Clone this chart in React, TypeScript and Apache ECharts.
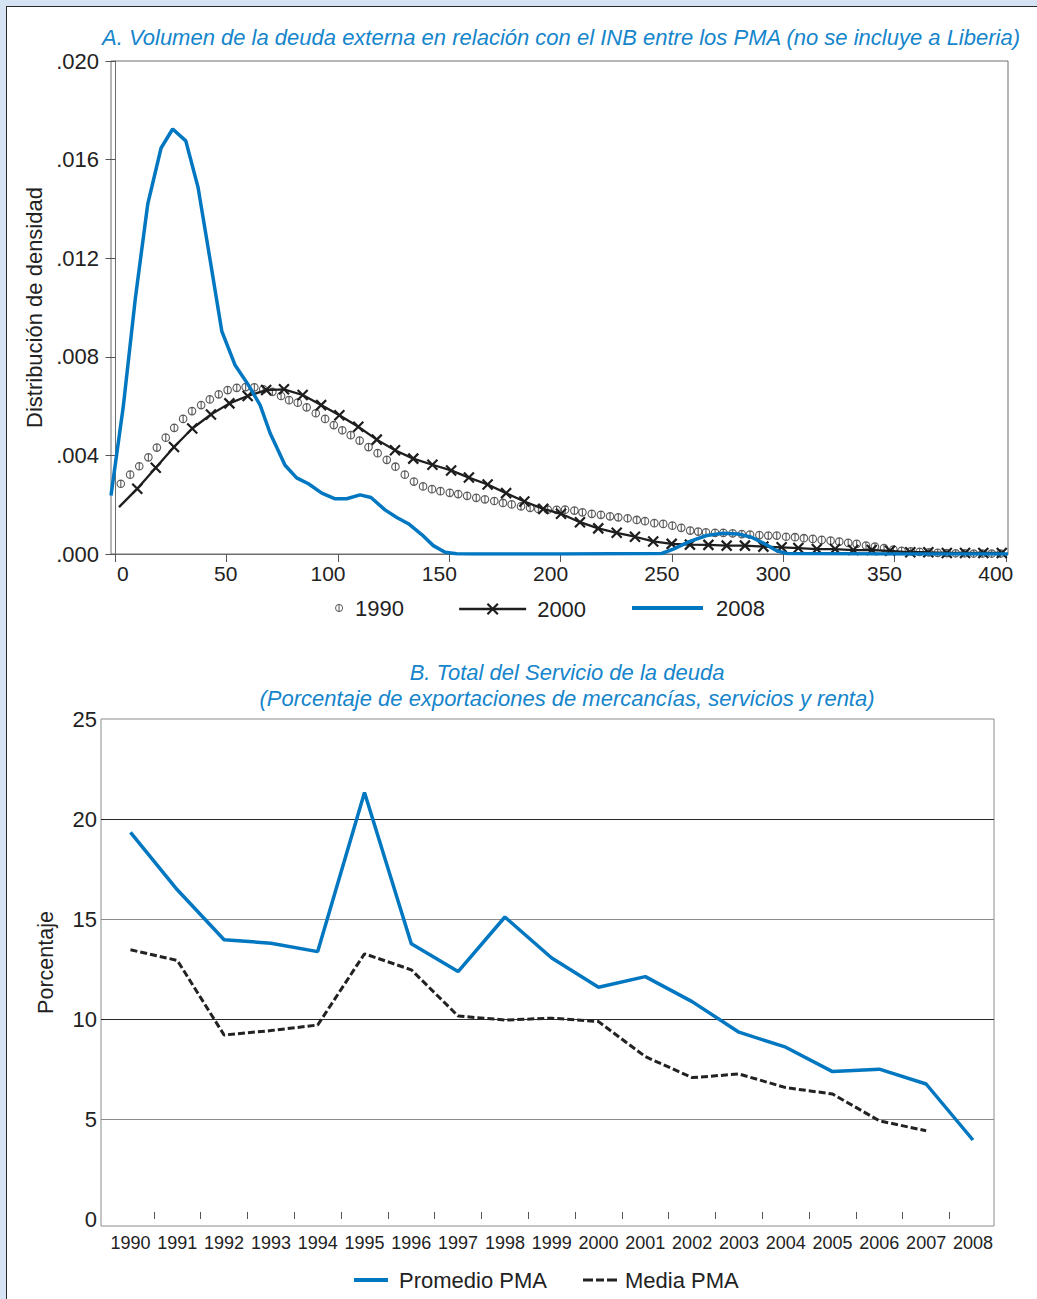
import React, { useEffect, useRef } from 'react';
import * as echarts from 'echarts';

const FONT = '"Liberation Sans", Arial, Helvetica, sans-serif';
const BLUE = '#0077c0';
const TITLE_BLUE = '#1585cc';
const DARK = '#222222';

// ---------- Panel A: kernel density of external debt / GNI ----------
const titleA = 'A. Volumen de la deuda externa en relación con el INB entre los PMA (no se incluye a Liberia)';
const yNameA = 'Distribución de densidad';
const xTicksA = [0, 50, 100, 150, 200, 250, 300, 350, 400];

const x1990 = [
  2.4, 6.6, 10.7, 14.8, 18.6, 22.6, 26.4, 30.4, 34.4, 38.5,
  42.4, 46.4, 50.4, 54.5, 58.5, 62.4, 66.4, 70.5, 74.4, 78.0,
  81.9, 85.9, 90.0, 94.2, 98.1, 101.9, 105.7, 109.7, 113.7, 117.8,
  121.9, 125.8, 130.0, 134.1, 138.2, 142.2, 146.0, 150.2, 154.0, 158.0,
  162.1, 166.0, 170.2, 174.1, 178.0, 182.2, 186.3, 190.0, 194.2, 198.2,
  202.0, 206.2, 209.8, 214.0, 218.1, 222.2, 225.9, 230.1, 234.2, 237.9,
  242.1, 246.1, 250.2, 254.2, 258.2, 261.8, 265.3, 269.4, 273.1, 277.3,
  281.4, 285.1, 289.3, 293.3, 297.1, 301.3, 305.3, 309.3, 313.3, 317.3,
  321.3, 325.2, 329.2, 333.0, 337.2, 341.2, 345.3, 349.5, 353.2, 357.3,
  361.3, 365.4, 369.4, 373.5, 377.5, 381.5, 385.6, 389.6, 393.7, 397.7,
];
const y1990 = [
  0.00285, 0.00322, 0.00356, 0.00392, 0.00432, 0.00472, 0.00512, 0.00548, 0.0058, 0.00604,
  0.00627, 0.00648, 0.00665, 0.00674, 0.00677, 0.00676, 0.00668, 0.00658, 0.00641, 0.00624,
  0.00614, 0.00595, 0.00571, 0.00548, 0.00523, 0.00502, 0.00482, 0.0046, 0.00434, 0.00409,
  0.00382, 0.00354, 0.00322, 0.00294, 0.00274, 0.00263, 0.00255, 0.00248, 0.00243, 0.00236,
  0.00228, 0.00222, 0.00215, 0.00207, 0.00201, 0.00193, 0.00187, 0.00183, 0.0018, 0.00179,
  0.0018, 0.00176, 0.00169, 0.00163, 0.00159, 0.00153, 0.00149, 0.00145, 0.00138, 0.00133,
  0.00125, 0.00122, 0.00115, 0.00106, 0.00095, 0.00091, 0.00088, 0.00086, 0.00086, 0.00084,
  0.00081, 0.00079, 0.00077, 0.00075, 0.00075, 0.0007, 0.00068, 0.00064, 0.00061, 0.00057,
  0.00054, 0.0005, 0.00045, 0.00041, 0.00034, 0.0003, 0.00024, 0.00018, 0.00013, 0.00011,
  0.00009, 0.00007, 0.00005, 0.00004, 0.00003, 0.00003, 0.00002, 0.00002, 0.00002, 0.00002,
];

const x2000 = [
  1.6, 9.8, 18.1, 26.3, 34.5, 42.9, 51.2, 59.4, 67.7, 75.7,
  84.1, 92.4, 100.6, 109.1, 117.4, 125.6, 133.8, 142.4, 150.8, 158.8,
  167.2, 175.5, 183.7, 192.2, 200.2, 208.7, 216.9, 225.2, 233.4, 241.6,
  249.9, 258.1, 266.4, 274.6, 282.8, 291.1, 299.3, 306.8, 315.1, 323.3,
  331.5, 339.8, 348.0, 357.1, 365.2, 373.5, 381.7, 389.9, 398.2,
];
const y2000 = [
  0.0019, 0.00265, 0.0035, 0.00434, 0.00509, 0.00566, 0.00611, 0.00641, 0.00665, 0.00668,
  0.00645, 0.00604, 0.00563, 0.00516, 0.00464, 0.00421, 0.00387, 0.00362, 0.00339, 0.0031,
  0.00282, 0.00247, 0.00213, 0.00183, 0.00163, 0.00129, 0.00104, 0.00086, 0.0007, 0.00051,
  0.00041, 0.00038, 0.00037, 0.00034, 0.00034, 0.0003, 0.00027, 0.00024, 0.0002, 0.0002,
  0.00016, 0.00016, 0.00013, 0.00007, 0.00007, 0.00004, 0.00004, 0.00004, 0.00004,
];

const x2008 = [
  -2.0, 3.5, 9.0, 14.5, 20.5, 25.7, 31.6, 37.1, 42.5, 47.8,
  53.7, 59.7, 65.0, 69.5, 76.2, 81.4, 86.7, 92.7, 98.7, 103.9,
  109.9, 114.8, 121.1, 126.4, 131.6, 137.6, 142.8, 148.1, 153.3, 160,
  200, 245.4, 250.6, 258.1, 265.6, 273.1, 279.8, 285.8, 291.8, 297.1,
  301.6, 350, 401,
];
const y2008 = [
  0.00237, 0.00597, 0.01042, 0.01419, 0.01647, 0.01724, 0.01676, 0.01488, 0.01195, 0.00903,
  0.00767, 0.00686, 0.00604, 0.0049, 0.0036, 0.00309, 0.00285, 0.00247, 0.00224, 0.00224,
  0.0024, 0.00229, 0.00179, 0.00148, 0.00123, 0.00079, 0.00034, 0.00007, 0.00001, 0,
  0, 0.00002, 0.0002, 0.00051, 0.00075, 0.00084, 0.00081, 0.00068, 0.00041, 0.00013,
  0.00002, 0, 0,
];

// ---------- Panel B: total debt service ----------
const titleB = 'B. Total del Servicio de la deuda\n(Porcentaje de exportaciones de mercancías, servicios y renta)';
const yNameB = 'Porcentaje';
const years = [1990, 1991, 1992, 1993, 1994, 1995, 1996, 1997, 1998, 1999, 2000, 2001, 2002, 2003, 2004, 2005, 2006, 2007, 2008];
const promedioPMA = [19.33, 16.46, 13.96, 13.79, 13.37, 21.33, 13.76, 12.37, 15.1, 13.05, 11.59, 12.12, 10.87, 9.34, 8.59, 7.37, 7.49, 6.75, 3.95];
const mediaPMA = [13.46, 12.93, 9.2, 9.42, 9.7, 13.26, 12.46, 10.15, 9.95, 10.04, 9.87, 8.12, 7.07, 7.25, 6.57, 6.25, 4.91, 4.41, null];
const yTicksB = [0, 5, 10, 15, 20, 25];

const PHI = 'path://M9,5A4,4,0,1,1,1,5A4,4,0,1,1,9,5Z M5,0.5L5,9.5';
const CROSS = 'path://M0,0L10,10M10,0L0,10';
const DASHES = 'path://M0,0h10v3h-10z M13,0h8v3h-8z M24,0h10v3h-10z';

const pairs = (xs: number[], ys: (number | null)[]) => xs.map((x, i) => [x, ys[i]]);

function buildOption(): any {
  const axisText = { fontFamily: FONT, color: DARK };
  return {
    animation: false,
    backgroundColor: 'transparent',
    textStyle: { fontFamily: FONT },
    title: [
      {
        text: titleA, left: 561, top: 26, padding: 0, textAlign: 'center', textVerticalAlign: 'top',
        textStyle: { fontFamily: FONT, fontSize: 22, fontStyle: 'italic', fontWeight: 'normal', color: TITLE_BLUE },
      },
      {
        text: titleB, left: 567, top: 659, padding: 0, textAlign: 'center', textVerticalAlign: 'top',
        textStyle: { fontFamily: FONT, fontSize: 22, fontStyle: 'italic', fontWeight: 'normal', color: TITLE_BLUE, lineHeight: 26 },
      },
    ],
    legend: [
      {
        data: [{ name: '1990', icon: PHI }], left: 335, top: 597, padding: 0, selectedMode: false,
        itemWidth: 22, itemHeight: 8, itemStyle: { borderWidth: 1 },
        textStyle: { ...axisText, fontSize: 22 },
      },
      {
        data: ['2000'], left: 458, top: 598, padding: 0, selectedMode: false,
        itemWidth: 67, itemHeight: 13, itemStyle: { borderWidth: 2.2 }, lineStyle: { width: 2.3 },
        textStyle: { ...axisText, fontSize: 22, padding: [0, 0, 0, 6] },
      },
      {
        data: [{ name: '2008', icon: 'rect' }], left: 632, top: 597, padding: 0, selectedMode: false,
        itemWidth: 71, itemHeight: 4, itemStyle: { borderWidth: 0 },
        textStyle: { ...axisText, fontSize: 22, padding: [0, 0, 0, 8] },
      },
      {
        data: [{ name: 'Promedio PMA', icon: 'rect' }], left: 354, top: 1269, padding: 0, selectedMode: false,
        itemWidth: 34, itemHeight: 4, itemStyle: { borderWidth: 0 },
        textStyle: { ...axisText, fontSize: 22, padding: [0, 0, 0, 6] },
      },
      {
        data: [{ name: 'Media PMA', icon: DASHES }], left: 583, top: 1269, padding: 0, selectedMode: false,
        itemWidth: 34, itemHeight: 3, itemStyle: { borderWidth: 0 },
        textStyle: { ...axisText, fontSize: 22, padding: [0, 0, 0, 3] },
      },
    ],
    grid: [
      { left: 111, top: 61, width: 897, height: 493, show: true, borderColor: '#6e6e6e', borderWidth: 1, backgroundColor: 'transparent' },
      { left: 101, top: 719, width: 893, height: 507, show: true, borderColor: '#8c8c8c', borderWidth: 1, backgroundColor: 'transparent' },
    ],
    xAxis: [
      {
        type: 'value', gridIndex: 0, min: -2, max: 401,
        axisLine: { show: true, lineStyle: { color: '#6e6e6e', width: 1 } },
        axisTick: { show: true, length: 8, customValues: xTicksA, lineStyle: { color: '#555', width: 1 } },
        axisLabel: {
          ...axisText, fontSize: 21, margin: 9,
          customValues: xTicksA.map((v) => (v === 0 ? v + 3.3 : v >= 100 ? v - 4.5 : v - 0.5)),
          formatter: (v: number) => String(Math.round(v / 50) * 50),
        },
        splitLine: { show: false },
      },
      {
        type: 'value', gridIndex: 1, min: 1989.37, max: 2008.45,
        axisLine: { show: false },
        axisTick: { show: true, inside: true, length: 7, customValues: years.slice(0, -1).map((y) => y + 0.5), lineStyle: { color: '#555', width: 1 } },
        axisLabel: {
          ...axisText, fontSize: 18, margin: 8,
          customValues: years,
          formatter: (v: number) => String(Math.round(v)),
        },
        splitLine: { show: false },
      },
    ],
    yAxis: [
      {
        type: 'value', gridIndex: 0, min: 0, max: 0.02, interval: 0.004,
        axisLine: { show: true, lineStyle: { color: '#6e6e6e', width: 1 } },
        axisTick: { show: true, length: 10, lineStyle: { color: '#555', width: 1 } },
        axisLabel: { ...axisText, fontSize: 22, margin: 12, formatter: (v: number) => v.toFixed(3).replace(/^0/, '') },
        splitLine: { show: false },
        name: yNameA, nameLocation: 'middle', nameGap: 66,
        nameTextStyle: { ...axisText, fontSize: 22 },
      },
      {
        type: 'value', gridIndex: 1, min: -0.35, max: 25,
        axisLine: { show: false },
        axisTick: { show: false, customValues: [5, 10, 15, 20] },
        axisLabel: { ...axisText, fontSize: 22, margin: 4, customValues: yTicksB },
        splitLine: { show: true, lineStyle: { color: ['#8c8c8c', '#2a2a2a'], width: 1 } },
        name: yNameB, nameLocation: 'middle', nameGap: 44,
        nameTextStyle: { ...axisText, fontSize: 21.5, padding: [0, 0, 0, 20] },
      },
    ],
    series: [
      {
        name: '1990', type: 'scatter', xAxisIndex: 0, yAxisIndex: 0,
        data: pairs(x1990, y1990),
        symbol: PHI, symbolSize: [7.5, 8.4],
        itemStyle: { color: 'rgba(0,0,0,0)', borderColor: '#333333', borderWidth: 1.2 },
        z: 2,
      },
      {
        name: '2000', type: 'line', xAxisIndex: 0, yAxisIndex: 0,
        data: pairs(x2000, y2000).map((p, i) => (i === 0 ? { value: p, symbol: 'none' } : p)),
        symbol: CROSS, symbolSize: 10, showSymbol: true, showAllSymbol: true,
        color: '#1e1e1e',
        lineStyle: { color: '#1e1e1e', width: 2.3 },
        itemStyle: { color: 'rgba(0,0,0,0)', borderColor: '#1e1e1e', borderWidth: 2.2 },
        z: 3,
      },
      {
        name: '2008', type: 'line', xAxisIndex: 0, yAxisIndex: 0,
        data: pairs(x2008, y2008),
        symbol: 'none', color: BLUE,
        lineStyle: { color: BLUE, width: 3.5 },
        z: 4,
      },
      {
        name: 'Promedio PMA', type: 'line', xAxisIndex: 1, yAxisIndex: 1,
        data: pairs(years, promedioPMA),
        symbol: 'none', color: BLUE,
        lineStyle: { color: BLUE, width: 3.5 },
        z: 4,
      },
      {
        name: 'Media PMA', type: 'line', xAxisIndex: 1, yAxisIndex: 1,
        data: pairs(years, mediaPMA),
        symbol: 'none', color: '#222',
        lineStyle: { color: '#222', width: 3, type: [7, 3] },
        z: 3,
      },
    ],
  };
}

export default function App() {
  const ref = useRef<HTMLDivElement>(null);
  useEffect(() => {
    if (!ref.current) return;
    const chart = echarts.init(ref.current, null, { renderer: 'svg' });
    chart.setOption(buildOption());
    return () => chart.dispose();
  }, []);
  return (
    <div style={{ position: 'fixed', left: 0, top: 0, width: 1037, height: 1299, background: '#d6e3f2', overflow: 'hidden' }}>
      <div
        style={{
          position: 'absolute', left: 6, top: 6, width: 1100, height: 1400, background: '#ffffff',
          borderLeft: '1.5px solid #2b2b2b', borderTop: '1.5px solid #2b2b2b',
        }}
      />
      <div ref={ref} style={{ position: 'absolute', left: 0, top: 0, width: 1037, height: 1299 }} />
    </div>
  );
}
